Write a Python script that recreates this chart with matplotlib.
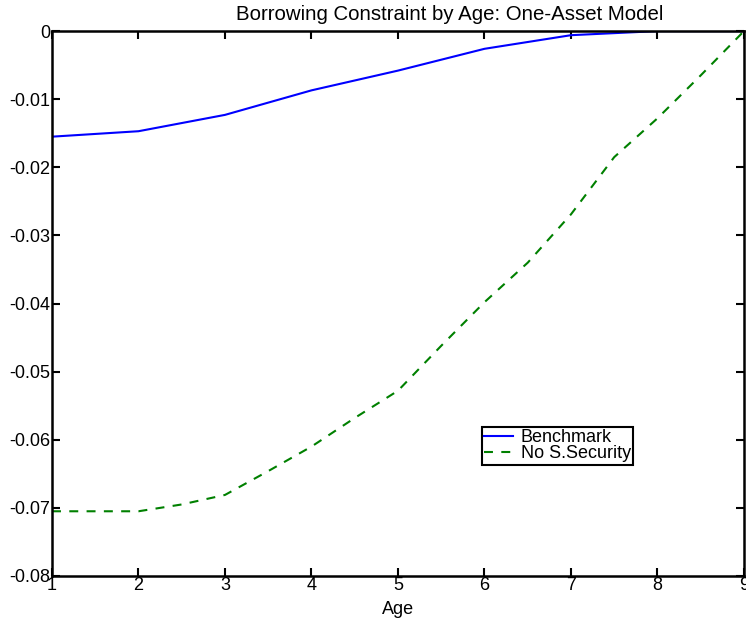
# plot.py
# Borrowing constraint by age, one-asset model (benchmark vs no social security)

import matplotlib
matplotlib.use("Agg")
import matplotlib.pyplot as plt

plt.rcParams['font.family'] = ['Liberation Sans', 'DejaVu Sans']

# data
bench_age = [1, 2, 3, 4, 5, 6, 7, 8, 9]
bench_val = [-0.0155, -0.0147, -0.0123, -0.0087, -0.0058, -0.0026, -0.0006, 0.0, 0.0]

noss_age = [1, 1.5, 2, 2.5, 3, 3.5, 4, 4.5, 5, 5.5, 6, 6.5, 7, 7.5, 8, 8.5, 9]
noss_val = [-0.0705, -0.0705, -0.0705, -0.0695, -0.0681, -0.0646, -0.0610, -0.0568,
            -0.0528, -0.0462, -0.0398, -0.0340, -0.0269, -0.0185, -0.0128, -0.0065, 0.0]

xticks = [1, 2, 3, 4, 5, 6, 7, 8, 9]
yticks = [0, -0.01, -0.02, -0.03, -0.04, -0.05, -0.06, -0.07, -0.08]
ylabels = ['0', '-0.01', '-0.02', '-0.03', '-0.04', '-0.05', '-0.06', '-0.07', '-0.08']

fig = plt.figure(figsize=(7.46, 6.22), dpi=100)
ax = fig.add_axes([0.0697, 0.074, 0.9276, 0.876])

ax.plot(bench_age, bench_val, color=(0, 0, 1), linewidth=1.5, label='Benchmark')
ax.plot(noss_age, noss_val, color=(0, 0.5, 0), linewidth=1.5,
        dashes=(4.3, 4.0), label='No S.Security')

ax.set_xlim(1, 9)
ax.set_ylim(-0.08, 0)
ax.set_xticks(xticks)
ax.set_yticks(yticks)
ax.set_yticklabels(ylabels)

ax.tick_params(direction='in', length=6, width=1.5, top=True, right=True,
               labelsize=13, pad=1)
for s in ax.spines.values():
    s.set_linewidth(1.8)

# title sits right of the axes centre in the original
fig.text(450 / 746, 1 - 20 / 622, 'Borrowing Constraint by Age: One-Asset Model',
         fontsize=14.7, ha='center', va='baseline')
ax.set_xlabel('Age', fontsize=13, labelpad=5)

leg = ax.legend(loc='upper left', bbox_to_anchor=(0.621, 0.274), fontsize=13,
                frameon=True, fancybox=False, framealpha=1, edgecolor='black',
                borderpad=0.15, labelspacing=-0.05, handlelength=1.6,
                handletextpad=0.4, borderaxespad=0)
leg.get_frame().set_linewidth(1.5)

fig.savefig('out.png', dpi=100)
